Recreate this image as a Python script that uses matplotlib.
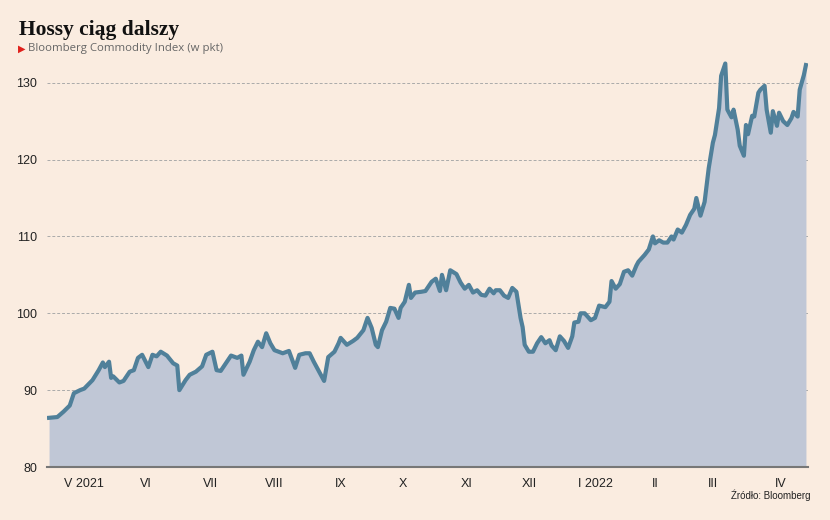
import matplotlib
matplotlib.use("Agg")
import matplotlib.pyplot as plt
import pandas as pd

# day offsets from 2021-04-26
DAYS = [
    0, 4, 7, 10, 12, 15, 17, 21, 24, 26,
    27, 29, 30, 31, 34, 36, 39, 41, 43, 45,
    48, 50, 52, 54, 57, 60, 62, 63, 66, 68,
    71, 74, 76, 79, 81, 83, 86, 88, 91, 93,
    94, 97, 99, 101, 103, 105, 107, 109, 113, 116,
    119, 121, 124, 126, 128, 131, 133, 135, 138, 140,
    141, 144, 147, 149, 152, 154, 156, 158, 159, 161,
    163, 165, 167, 169, 170, 172, 174, 175, 177, 180,
    182, 185, 187, 189, 190, 192, 194, 197, 199, 201,
    203, 205, 207, 209, 211, 213, 215, 216, 218, 220,
    222, 224, 226, 228, 229, 230, 232, 234, 236, 238,
    240, 242, 243, 245, 247, 249, 251, 253, 254, 256,
    257, 259, 262, 264, 266, 269, 271, 272, 274, 276,
    278, 280, 282, 284, 285, 288, 290, 292, 293, 295,
    297, 299, 301, 302, 304, 306, 308, 310, 312, 313,
    315, 317, 319, 321, 322, 324, 325, 327, 328, 330,
    331, 333, 334, 336, 337, 338, 340, 341, 343, 344,
    346, 347, 349, 350, 352, 353, 355, 357, 359, 360,
    362, 363, 365, 366,
]
# Bloomberg Commodity Index (pkt)
VALUES = [
    86.4, 86.5, 87.2, 88.0, 89.6, 90.0, 90.2, 91.3, 92.6, 93.6,
    93.0, 93.7, 91.6, 91.8, 91.0, 91.2, 92.4, 92.6, 94.2, 94.6,
    93.0, 94.6, 94.4, 95.0, 94.5, 93.5, 93.2, 90.0, 91.3, 92.0,
    92.4, 93.1, 94.6, 95.0, 92.6, 92.5, 93.7, 94.5, 94.2, 94.5,
    92.0, 93.7, 95.2, 96.3, 95.6, 97.4, 96.1, 95.2, 94.8, 95.1,
    92.9, 94.6, 94.8, 94.8, 93.7, 92.2, 91.2, 94.3, 95.0, 96.1,
    96.8, 95.9, 96.4, 96.8, 97.8, 99.4, 98.1, 95.9, 95.6, 97.8,
    98.9, 100.7, 100.6, 99.4, 100.7, 101.5, 103.7, 102.0, 102.7, 102.8,
    102.9, 104.1, 104.5, 102.9, 105.0, 103.0, 105.6, 105.1, 104.0, 103.2,
    103.7, 102.7, 103.0, 102.4, 102.3, 103.2, 102.6, 103.0, 103.0, 102.3,
    102.0, 103.3, 102.8, 99.4, 98.2, 95.9, 95.0, 95.0, 96.1, 96.9,
    96.1, 96.5, 95.8, 95.2, 97.0, 96.4, 95.5, 97.0, 98.8, 98.9,
    100.0, 100.0, 99.1, 99.4, 101.0, 100.8, 101.5, 104.2, 103.2, 103.8,
    105.4, 105.6, 104.9, 106.2, 106.7, 107.6, 108.3, 110.0, 109.1, 109.5,
    109.2, 109.2, 110.0, 109.6, 110.9, 110.5, 111.5, 112.8, 113.6, 115.0,
    112.7, 114.5, 118.9, 122.2, 123.2, 126.7, 130.9, 132.5, 126.5, 125.5,
    126.5, 123.9, 121.8, 120.5, 124.5, 123.3, 125.7, 125.6, 128.7, 129.1,
    129.6, 126.5, 123.5, 126.3, 124.4, 126.1, 125.0, 124.5, 125.4, 126.2,
    125.6, 129.1, 131.0, 132.3,
]
MONTH_LABELS = ["V 2021", "VI", "VII", "VIII", "IX", "X", "XI", "XII",
                "I 2022", "II", "III", "IV"]
MONTH_TICK_DAYS = [17, 47, 78, 109, 141, 171, 202, 232, 264, 293, 321, 354]
YTICKS = [80, 90, 100, 110, 120, 130]

BG = "#faece0"
start = pd.Timestamp("2021-04-26")
dates = start + pd.to_timedelta(DAYS, unit="D")
tick_dates = start + pd.to_timedelta(MONTH_TICK_DAYS, unit="D")

fig = plt.figure(figsize=(8.3, 5.2), dpi=100, facecolor=BG)
ax = fig.add_axes([47 / 830, 53 / 520, 761 / 830, 415 / 520], facecolor=BG)

ax.fill_between(dates, 80, VALUES, color="#c0c7d6", lw=0, zorder=2)
ax.plot(dates, VALUES, color="#50809a", lw=3, solid_joinstyle="round", zorder=3)

ax.set_ylim(80, 134)
ax.set_xlim(dates[0] - pd.Timedelta(days=1), dates[-1] + pd.Timedelta(days=1))
ax.set_yticks(YTICKS)
ax.set_yticklabels([str(v) for v in YTICKS], fontsize=9, color="#222222",
                   family="Liberation Sans")
ax.yaxis.grid(True, linestyle=(0, (3, 2)), color="#aaaaaa", lw=0.7, zorder=1)
ax.tick_params(axis="y", length=0, pad=7)
ax.set_xticks(tick_dates)
ax.set_xticklabels(MONTH_LABELS, fontsize=9, color="#222222", family="Liberation Sans")
ax.tick_params(axis="x", length=0, pad=8)
for s in ["top", "right", "left"]:
    ax.spines[s].set_visible(False)
ax.spines["bottom"].set_color("#777777")
ax.spines["bottom"].set_linewidth(1.5)
ax.spines["bottom"].set_zorder(4)

fig.text(19 / 830, 1 - 30 / 520, "Hossy ciąg dalszy", fontsize=15.5, fontweight="bold",
         family="Liberation Serif", va="center", color="#111111")
fig.text(18 / 830, 1 - 49 / 520, "▶", fontsize=7, color="#e0201b", va="center")
fig.text(28 / 830, 1 - 49 / 520, "Bloomberg Commodity Index (w pkt)", fontsize=8.2,
         color="#666666", va="center", family="Open Sans")
fig.text(810 / 830, 1 - 495 / 520, "Źródło: Bloomberg", fontsize=7, ha="right",
         va="center", color="#222222", family="Liberation Sans")

fig.savefig("out.png", dpi=100, facecolor=BG)
